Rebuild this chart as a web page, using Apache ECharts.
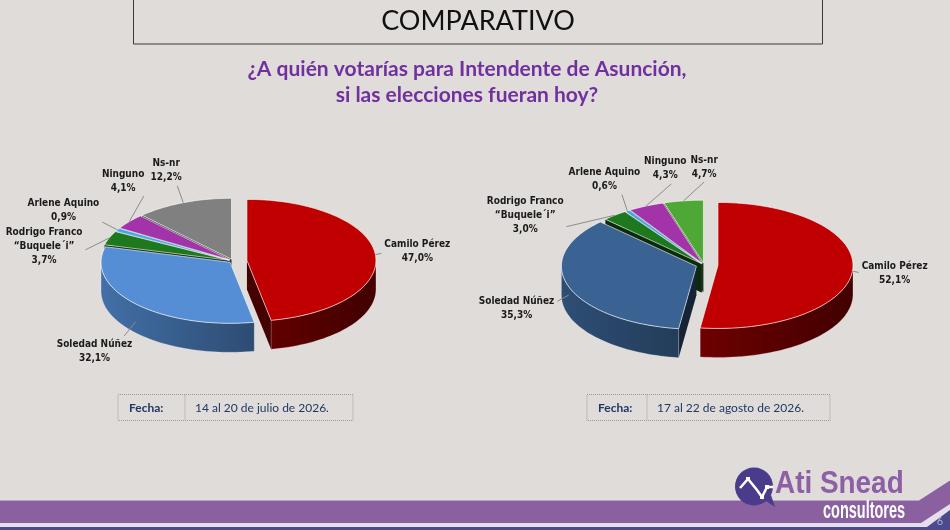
<!DOCTYPE html>
<html lang="es">
<head>
<meta charset="UTF-8">
<title>Comparativo</title>
<style>
    *{margin: 0; padding: 0;}
    html,body{width: 100%; height: 100%; background: #e0dcd9;}
    #chart{width: 950px; height: 530px;}
</style>
</head>
<body>
<div id="chart"></div>
<script src="https://cdn.jsdelivr.net/npm/echarts@6/dist/echarts.min.js"></script>
<script>
// datos
var categories = ['Camilo Pérez', 'Soledad Núñez', 'Rodrigo Franco\n“Buquele´i”', 'Arlene Aquino', 'Ninguno', 'Ns-nr'];
var julio = [47.0, 32.1, 3.7, 0.9, 4.1, 12.2];
var agosto = [52.1, 35.3, 3.0, 0.6, 4.3, 4.7];
var fechas = ['14 al 20 de julio de 2026.', '17 al 22 de agosto de 2026.'];

var coloresJulio = ['#c00000', '#558ed5', '#1e781e', '#46a8de', '#a233a8', '#808080'];
var coloresAgosto = ['#c00000', '#3a6394', '#1e781e', '#46a8de', '#a233a8', '#4ea836'];

var LABEL_FONT = "bold 10px 'DejaVu Sans Condensed', 'DejaVu Sans', sans-serif";
var LH = 14;
var rad = Math.PI / 180;
var ctx = document.createElement('canvas').getContext('2d');
ctx.font = LABEL_FONT;

var pies = [
    {values: julio, colors: coloresJulio, cx: 233, cy: 261, rx: 129, ry: 61, depth: 29, explode: [14, 4, 4, 4, 4, 4]},
    {values: agosto, colors: coloresAgosto, cx: 704, cy: 265, rx: 135, ry: 63, depth: 29, explode: [14, 8, 4, 4, 4, 4]}
];

function shade(hex, f) {
    var c = echarts.color.parse(hex);
    return 'rgb(' + Math.round(c[0] * f) + ',' + Math.round(c[1] * f) + ',' + Math.round(c[2] * f) + ')';
}
function pct(v) {
    return v.toFixed(1).replace('.', ',') + '%';
}
function slicePoint(p, s, t, dz) {
    return [p.cx + s.ox + p.rx * Math.sin(t * rad), p.cy + s.oy - p.ry * Math.cos(t * rad) + (dz || 0)];
}
function labelBox(p, ang, w, h) {
    var L = ang * rad, lx = p.rx + 20, ly = p.ry + 20;
    var A = [p.cx + lx * Math.sin(L), p.cy - ly * Math.cos(L) + Math.max(0, -Math.cos(L)) * p.depth];
    var dx = lx * Math.sin(L), dy = -ly * Math.cos(L), len = Math.sqrt(dx * dx + dy * dy);
    var ux = dx / len, uy = dy / len;
    var tt = Math.min(Math.abs(ux) > 1e-6 ? (w / 2 + 3) / Math.abs(ux) : 1e9,
                      Math.abs(uy) > 1e-6 ? (h / 2 + 1) / Math.abs(uy) : 1e9);
    return {A: A, x: A[0] + ux * tt, y: A[1] + uy * tt, w: w, h: h};
}
function overlap(o, b) {
    return Math.abs(o.x - b.x) < (o.w + b.w) / 2 + 3 && Math.abs(o.y - b.y) < (o.h + b.h) / 2 + 1;
}

// porciones y etiquetas (se separan simetricamente si se solapan)
pies.forEach(function (p) {
    var total = p.values.reduce(function (s, v) { return s + v; }, 0), acc = 0;
    p.slices = p.values.map(function (v, i) {
        var a = acc / total * 360;
        acc += v;
        var b = acc / total * 360, m = (a + b) / 2, e = p.explode[i];
        return {a: a, b: b, m: m, ox: Math.sin(m * rad) * e, oy: -Math.cos(m * rad) * e * p.ry / p.rx};
    });
    var txts = p.values.map(function (v, i) { return categories[i] + '\n' + pct(v); });
    var ws = txts.map(function (t) {
        return Math.max.apply(null, t.split('\n').map(function (l) { return ctx.measureText(l).width; }));
    });
    var hs = txts.map(function (t) { return t.split('\n').length * LH; });
    var ang = p.slices.map(function (s) { return s.m; }), boxes;
    for (var it = 0; it < 400; it++) {
        boxes = ang.map(function (a, i) { return labelBox(p, a, ws[i], hs[i]); });
        var moved = false;
        for (var i = 0; i < ang.length; i++) {
            for (var j = i + 1; j < ang.length; j++) {
                if (overlap(boxes[i], boxes[j])) {
                    ang[i] -= 0.5;
                    ang[j] += 0.5;
                    moved = true;
                }
            }
        }
        if (!moved) break;
    }
    p.labels = boxes.map(function (b, i) {
        var s = p.slices[i];
        b.txt = txts[i];
        b.S = slicePoint(p, s, s.m, Math.max(0, -Math.cos(s.m * rad)) * p.depth * 0.9);
        return b;
    });
});

function makeRender(p) {
    return function (params, api) {
        var i = params.dataIndex, s = p.slices[i], col = p.colors[i], lab = p.labels[i];
        function pt(t, dz) { return slicePoint(p, s, t, dz); }
        var C = [p.cx + s.ox, p.cy + s.oy];
        var kids = [], k;

        // cara superior
        var top = [C], steps = Math.max(2, Math.ceil((s.b - s.a) / 2));
        for (k = 0; k <= steps; k++) top.push(pt(s.a + (s.b - s.a) * k / steps));
        kids.push({type: 'polygon', z2: 1000, shape: {points: top},
            style: {fill: col, stroke: 'rgba(255,255,255,0.75)', lineWidth: 0.8}});

        // pared exterior (mitad delantera)
        var t0 = Math.max(s.a, 90), t1 = Math.min(s.b, 270);
        if (t1 > t0) {
            var n = Math.max(2, Math.ceil((t1 - t0) / 2)), up = [], down = [];
            for (k = 0; k <= n; k++) {
                var t = t0 + (t1 - t0) * k / n;
                up.push(pt(t));
                down.unshift(pt(t, p.depth));
            }
            var zm = (Math.sin(t0 * rad) - Math.sin(t1 * rad)) / ((t1 - t0) * rad);
            kids.push({type: 'polygon', z2: 500 + zm * 100, shape: {points: up.concat(down)},
                style: {fill: {type: 'linear', x: p.cx - p.rx, y: 0, x2: p.cx + p.rx, y2: 0, global: true,
                    colorStops: [{offset: 0, color: shade(col, 0.78)}, {offset: 1, color: shade(col, 0.36)}]},
                    stroke: 'rgba(255,255,255,0.35)', lineWidth: 0.6}});
        }

        // paredes de corte visibles
        [[s.a, Math.sin(s.a * rad) < -1e-6], [s.b, Math.sin(s.b * rad) > 1e-6]].forEach(function (w) {
            if (!w[1]) return;
            var P = pt(w[0]);
            kids.push({type: 'polygon', z2: 500 - 50 * Math.cos(w[0] * rad),
                shape: {points: [C, P, [P[0], P[1] + p.depth], [C[0], C[1] + p.depth]]},
                style: {fill: shade(col, 0.36)}});
        });

        // etiqueta y linea guia
        kids.push({type: 'line', z2: 1999, shape: {x1: lab.S[0], y1: lab.S[1], x2: lab.A[0], y2: lab.A[1]},
            style: {stroke: '#8c8c8c', lineWidth: 1}});
        kids.push({type: 'text', z2: 2000, x: lab.x, y: lab.y,
            style: {text: lab.txt, fill: '#1a1a1a', font: LABEL_FONT, align: 'center', verticalAlign: 'middle', lineHeight: LH}});

        return {type: 'group', children: kids};
    };
}

function dateBox(x, w, div, fecha) {
    return [
        {type: 'rect', shape: {x: x, y: 394.5, width: w, height: 26},
            style: {fill: 'none', stroke: '#9a9a9a', lineWidth: 1, lineDash: [1, 1]}},
        {type: 'line', shape: {x1: div, y1: 394.5, x2: div, y2: 420.5},
            style: {stroke: '#9a9a9a', lineWidth: 1, lineDash: [1, 1]}},
        {type: 'text', x: x + 11, y: 408,
            style: {text: 'Fecha:', font: "bold 12px Lato", fill: '#1f3864', align: 'left', verticalAlign: 'middle'}},
        {type: 'text', x: div + 10, y: 408,
            style: {text: fecha, font: "12px Lato", fill: '#1f3864', align: 'left', verticalAlign: 'middle'}}
    ];
}

var graphics = [
    // titulo
    {type: 'rect', shape: {x: 133.5, y: -2, width: 689, height: 46}, style: {fill: 'none', stroke: '#3a3a3a', lineWidth: 1}},
    {type: 'text', x: 478, y: 21, style: {text: 'COMPARATIVO', font: "27px Lato", fill: '#111', align: 'center', verticalAlign: 'middle'}},
    {type: 'text', x: 467, y: 69, style: {text: '¿A quién votarías para Intendente de Asunción,', font: "bold 21px Lato", fill: '#7030a0', align: 'center', verticalAlign: 'middle'}},
    {type: 'text', x: 467, y: 95, style: {text: 'si las elecciones fueran hoy?', font: "bold 21px Lato", fill: '#7030a0', align: 'center', verticalAlign: 'middle'}},
    // pie de pagina
    {type: 'polygon', shape: {points: [[0, 523], [921, 523], [950, 504], [950, 510], [927, 527], [0, 527]]}, style: {fill: '#e6deec'}},
    {type: 'polygon', shape: {points: [[0, 500.5], [919, 500.5], [950, 480.5], [950, 504], [921, 523], [0, 523]]}, style: {fill: '#8a60a1'}},
    {type: 'line', shape: {x1: 0, y1: 500.5, x2: 919, y2: 500.5}, style: {stroke: '#b8a2c8', lineWidth: 1}},
    {type: 'rect', shape: {x: 0, y: 527, width: 950, height: 3}, style: {fill: '#4c4a8d'}},
    {type: 'polygon', shape: {points: [[927, 527], [950, 510], [950, 527]]}, style: {fill: '#4c4a8d'}},
    {type: 'text', x: 940, y: 521, style: {text: '6', font: "11px Lato", fill: '#b0acd6', align: 'center', verticalAlign: 'middle'}},
    // logo
    {type: 'polygon', shape: {points: [[763, 499], [775, 507], [771, 495]]}, style: {fill: '#4a3b8b'}},
    {type: 'circle', shape: {cx: 754, cy: 486.5, r: 19}, style: {fill: '#4a3b8b'}},
    {type: 'polyline', shape: {points: [[740, 488], [748, 479], [757, 490], [762, 497], [767, 487], [773, 487]]},
        style: {stroke: '#fff', lineWidth: 2.5, fill: 'none'}},
    {type: 'rect', shape: {x: 746, y: 477, width: 4, height: 4}, style: {fill: '#fff'}},
    {type: 'rect', shape: {x: 760, y: 495, width: 4, height: 4}, style: {fill: '#fff'}},
    {type: 'rect', shape: {x: 765, y: 485, width: 4, height: 4}, style: {fill: '#fff'}},
    {type: 'text', x: 775, y: 484, scaleX: 0.9,
        style: {text: 'Ati Snead', font: "bold 31px 'Liberation Sans'", fill: '#8c5fa6', align: 'left', verticalAlign: 'middle'}},
    {type: 'text', x: 823, y: 512, scaleX: 0.63,
        style: {text: 'consultores', font: "bold 23px 'Liberation Sans'", fill: '#ffffff', align: 'left', verticalAlign: 'middle'}}
].concat(dateBox(118, 235, 185, fechas[0]), dateBox(587, 243, 647, fechas[1]));

var chart = echarts.init(document.getElementById('chart'));
chart.setOption({
    backgroundColor: '#e0dcd9',
    animation: false,
    graphic: {elements: graphics},
    series: pies.map(function (p) {
        return {type: 'custom', coordinateSystem: 'none', silent: true, renderItem: makeRender(p), data: p.values};
    })
});
</script>
</body>
</html>
